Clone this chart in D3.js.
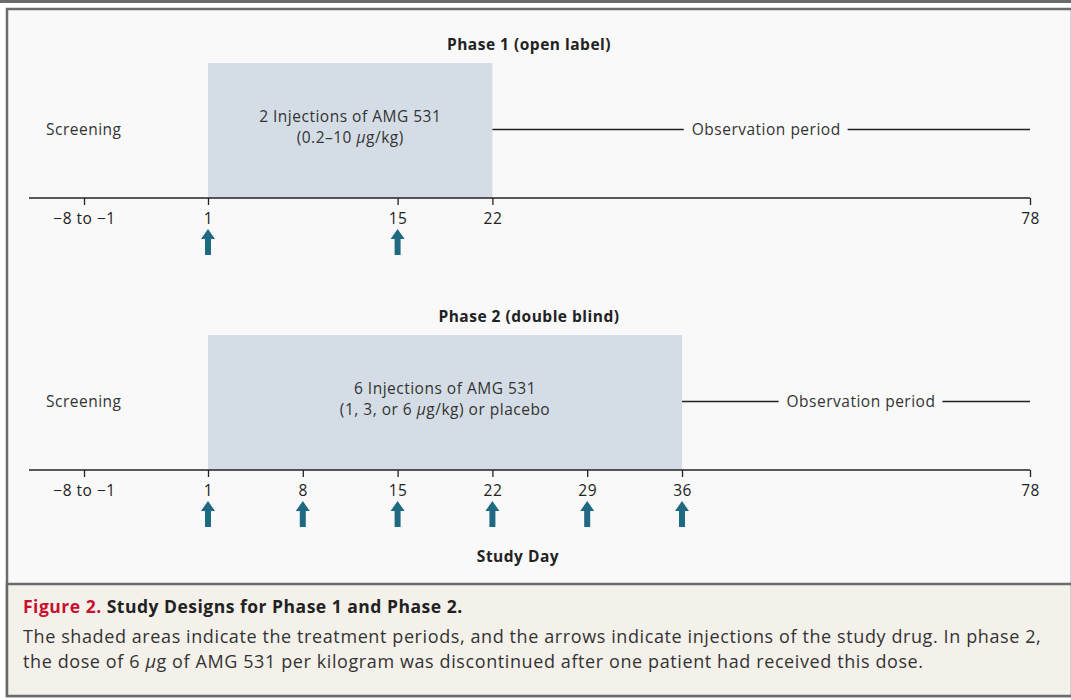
<!DOCTYPE html>
<html>
<head>
<meta charset="utf-8">
<script src="https://cdn.jsdelivr.net/npm/d3@7"></script>
<style>
  body { margin: 0; background: #fff; }
  svg { display: block; font-family: "Open Sans", Lato, sans-serif; }
</style>
</head>
<body>
<div id="chart"></div>
<script>
// Study design data
const phaseTitles = ["Phase 1 (open label)", "Phase 2 (double blind)"];
const screeningDay = -4.5; // stands for "-8 to -1"
const tickDays = [[screeningDay, 1, 15, 22, 78], [screeningDay, 1, 8, 15, 22, 29, 36, 78]];
const injectionDays = [[1, 15], [1, 8, 15, 22, 29, 36]];
const treatmentEnd = [22, 36];
const lastDay = 78;
const treatmentText = [
    ["2 Injections of AMG 531", "(0.2\u201310 \u03bcg/kg)"],
    ["6 Injections of AMG 531", "(1, 3, or 6 \u03bcg/kg) or placebo"]
];
const captionTitle = "Study Designs for Phase 1 and Phase 2.";
const captionLines = [
    "The shaded areas indicate the treatment periods, and the arrows indicate injections of the study drug. In phase 2,",
    "the dose of 6 \u03bcg of AMG 531 per kilogram was discontinued after one patient had received this dose."
];

const width = 1071, height = 700;
const svg = d3.select("#chart").append("svg")
    .attr("width", width)
    .attr("height", height);

// writes a line of text, setting the greek mu in italics
function writeLine(sel, line) {
    line.split(/(\u03bc)/).forEach(function(part) {
        if (!part) return;
        const t = sel.append("tspan").text(part);
        if (part === "\u03bc") t.attr("font-style", "italic");
    });
}

// frame
svg.append("rect").attr("x", 0).attr("y", 0).attr("width", width).attr("height", 3).attr("fill", "#6b6b6b");
svg.append("rect").attr("x", 7).attr("y", 9).attr("width", width - 6).attr("height", 687)
    .attr("fill", "#f9f9f9").attr("stroke", "#6b6b6b").attr("stroke-width", 2.5);
svg.append("rect").attr("x", 7).attr("y", 584).attr("width", width - 6).attr("height", 112)
    .attr("fill", "#f4f1eb").attr("stroke", "#6b6b6b").attr("stroke-width", 2.5);

// day scale (time axis is compressed after treatment)
const x = d3.scaleLinear()
    .domain([screeningDay, 1, 36, lastDay])
    .range([84, 208, 682, 1030]);

const arrowColor = "#1f6983";
const panelTop = [63, 335];
const axisY = [198, 470];

phaseTitles.forEach(function(title, i) {
    const g = svg.append("g");
    const top = panelTop[i], ay = axisY[i];
    const midY = top + (ay - top) / 2;

    g.append("text")
        .attr("x", 529).attr("y", top - 13)
        .attr("text-anchor", "middle")
        .attr("font-weight", "bold")
        .attr("font-size", 15.5)
        .attr("letter-spacing", 0.5)
        .attr("fill", "#222")
        .text(title);

    // treatment shading
    g.append("rect")
        .attr("x", x(1)).attr("y", top)
        .attr("width", x(treatmentEnd[i]) - x(1))
        .attr("height", ay - top)
        .attr("fill", "#d4dde5");

    const cx = (x(1) + x(treatmentEnd[i])) / 2;
    treatmentText[i].forEach(function(line, j) {
        const t = g.append("text")
            .attr("x", cx).attr("y", midY - 9 + j * 21)
            .attr("text-anchor", "middle")
            .attr("font-size", 15.5)
            .attr("letter-spacing", 0.5)
            .attr("fill", "#333");
        writeLine(t, line);
    });

    g.append("text")
        .attr("x", 46).attr("y", midY + 4)
        .attr("font-size", 15.5)
        .attr("letter-spacing", 0.5)
        .attr("fill", "#333")
        .text("Screening");

    // observation period line with label
    const obsLabel = g.append("text")
        .attr("x", (x(treatmentEnd[i]) + x(lastDay)) / 2 + 5)
        .attr("y", midY + 4)
        .attr("text-anchor", "middle")
        .attr("font-size", 15.5)
        .attr("letter-spacing", 0.5)
        .attr("fill", "#333")
        .text("Observation period");
    const bb = obsLabel.node().getBBox();
    g.append("line")
        .attr("x1", x(treatmentEnd[i])).attr("x2", bb.x - 8)
        .attr("y1", midY - 1).attr("y2", midY - 1)
        .attr("stroke", "#222").attr("stroke-width", 1.3);
    g.append("line")
        .attr("x1", bb.x + bb.width + 7).attr("x2", x(lastDay))
        .attr("y1", midY - 1).attr("y2", midY - 1)
        .attr("stroke", "#222").attr("stroke-width", 1.3);

    // axis
    const axis = d3.axisBottom(x)
        .tickValues(tickDays[i])
        .tickSize(7)
        .tickSizeOuter(0)
        .tickPadding(8)
        .tickFormat(function(d) { return d === screeningDay ? "\u22128 to \u22121" : d; });
    const ag = g.append("g")
        .attr("transform", "translate(0," + ay + ")")
        .call(axis);
    ag.select(".domain").remove();
    ag.selectAll(".tick line").attr("stroke", "#222").attr("stroke-width", 1.3);
    ag.selectAll(".tick text").attr("font-size", 15.5).attr("fill", "#222")
        .attr("letter-spacing", 0.5)
        .attr("font-family", "'Open Sans', sans-serif");
    g.append("line")
        .attr("x1", 29).attr("x2", x(lastDay))
        .attr("y1", ay).attr("y2", ay)
        .attr("stroke", "#222").attr("stroke-width", 1.5);

    // injection arrows
    g.selectAll(".arrow")
        .data(injectionDays[i])
        .enter()
        .append("path")
        .attr("class", "arrow")
        .attr("fill", arrowColor)
        .attr("d", function(d) {
            const ax = x(d), y0 = ay + 31;
            return "M" + ax + "," + y0 +
                "L" + (ax + 7) + "," + (y0 + 10) +
                "L" + (ax + 3) + "," + (y0 + 10) +
                "L" + (ax + 3) + "," + (y0 + 26) +
                "L" + (ax - 3) + "," + (y0 + 26) +
                "L" + (ax - 3) + "," + (y0 + 10) +
                "L" + (ax - 7) + "," + (y0 + 10) + "Z";
        });
});

svg.append("text")
    .attr("x", 518).attr("y", 562)
    .attr("text-anchor", "middle")
    .attr("font-weight", "bold")
    .attr("font-size", 15.5)
    .attr("letter-spacing", 0.5)
    .attr("fill", "#222")
    .text("Study Day");

// caption
const cap = svg.append("text")
    .attr("x", 23).attr("y", 613)
    .attr("font-size", 17.5)
    .attr("letter-spacing", 0.5)
    .attr("font-weight", "bold");
cap.append("tspan").attr("fill", "#c8102e").text("Figure 2. ");
cap.append("tspan").attr("fill", "#222").text(captionTitle);

captionLines.forEach(function(line, i) {
    const t = svg.append("text")
        .attr("x", 23).attr("y", 643 + i * 25)
        .attr("font-size", 18)
        .attr("letter-spacing", 0.6)
        .attr("fill", "#333");
    writeLine(t, line);
});
</script>
</body>
</html>
